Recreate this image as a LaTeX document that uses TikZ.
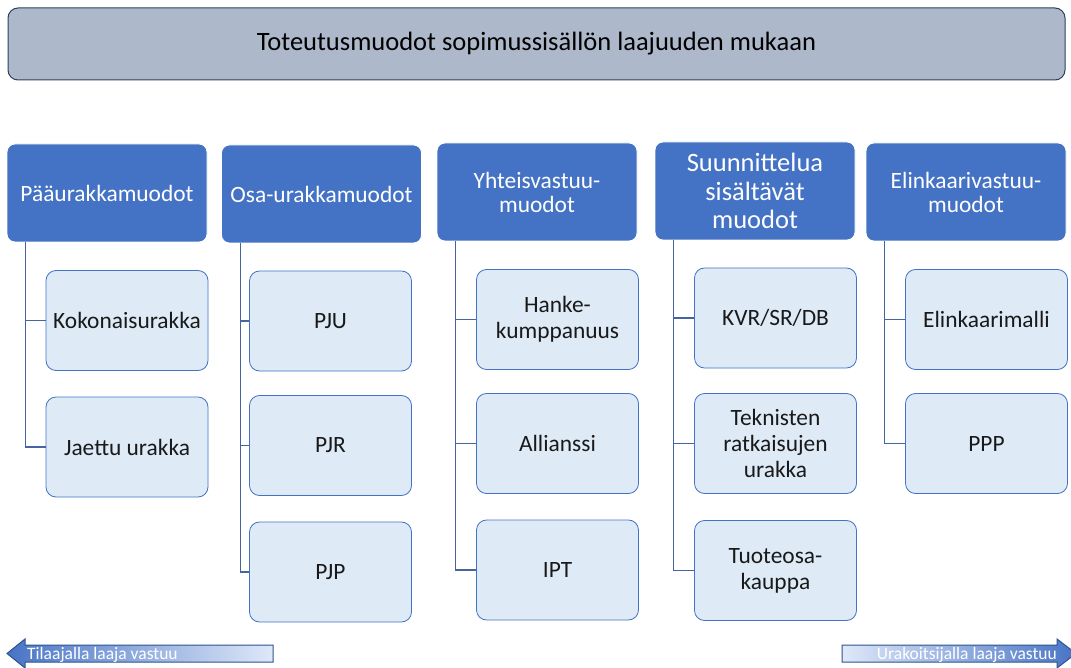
\documentclass[tikz,border=0pt]{standalone}
\usepackage{fontspec}
\setmainfont{Carlito}
\usetikzlibrary{calc}
\definecolor{headfill}{RGB}{173,185,202}
\definecolor{headline}{RGB}{47,64,90}
\definecolor{catblue}{RGB}{68,114,196}
\definecolor{itemfill}{RGB}{222,235,247}
\definecolor{linkblue}{RGB}{70,100,160}
\definecolor{arrowlight}{RGB}{222,232,248}
\definecolor{arrowdark}{RGB}{72,116,198}
\definecolor{arrowline}{RGB}{47,82,143}
\tikzset{
  titlebox/.style={draw=headline, line width=1pt, fill=headfill, rounded corners=10pt,
    minimum width=1057pt, minimum height=72pt, font=\fontsize{26.5}{30}\selectfont, text=black},
  catbox/.style={draw=white, line width=0.8pt, fill=catblue, rounded corners=8pt,
    minimum width=200pt, minimum height=98pt, align=center, text=white,
    font=\fontsize{23.4}{24}\selectfont, inner sep=2pt},
  itembox/.style={draw=catblue, line width=0.8pt, fill=itemfill, rounded corners=10pt,
    minimum width=162pt, minimum height=100pt, align=center, text=black!90,
    font=\fontsize{23.4}{26}\selectfont, inner sep=2pt},
  link/.style={draw=linkblue, line width=1.2pt},
  bandarrow/.style={draw=arrowline, line width=1pt},
  bandtext/.style={text=white, font=\fontsize{17.5}{20}\selectfont, inner sep=0pt}
}
\begin{document}
\begin{tikzpicture}[x=1pt,y=-1pt]
\useasboundingbox (0,0) rectangle (1071,668);

% title bar
\node[titlebox] (title) at (536.5,44) {Toteutusmuodot sopimussisällön laajuuden mukaan};

% category headers
\node[catbox] (c1) at (107,193) {Pääurakkamuodot};
\node[catbox] (c2) at (321.5,194) {Osa-urakkamuodot};
\node[catbox] (c3) at (537,192) {Yhteisvastuu-\\muodot};
\node[catbox, font=\fontsize{26.5}{28.5}\selectfont] (c4) at (755,191) {Suunnittelua\\sisältävät\\muodot};
\node[catbox] (c5) at (966,192) {Elinkaarivastuu-\\muodot};

% items
\node[itembox] (a1) at (127,320.5) {Kokonaisurakka};
\node[itembox] (a2) at (127,447) {Jaettu urakka};

\node[itembox] (b1) at (330.5,321) {PJU};
\node[itembox] (b2) at (330.5,445.5) {PJR};
\node[itembox] (b3) at (330.5,572) {PJP};

\node[itembox] (d1) at (557.5,319.5) {Hanke-\\kumppanuus};
\node[itembox] (d2) at (557.5,443.5) {Allianssi};
\node[itembox] (d3) at (557.5,570) {IPT};

\node[itembox] (e1) at (775.5,318) {KVR/SR/DB};
\node[itembox] (e2) at (775.5,443.5) {Teknisten\\ratkaisujen\\urakka};
\node[itembox] (e3) at (775.5,570.5) {Tuoteosa-\\kauppa};

\node[itembox] (f1) at (986.5,319.5) {Elinkaarimalli};
\node[itembox] (f2) at (986.5,443.5) {PPP};

% tree connectors
\foreach \c/\items in {c1/{a1,a2}, c2/{b1,b2,b3}, c3/{d1,d2,d3}, c4/{e1,e2,e3}, c5/{f1,f2}} {
  \foreach \i in \items {
    \draw[link] ($(\c.south west)+(19,0)$) |- (\i.west);
  }
}

% bottom band arrows
\shade[bandarrow, left color=arrowdark, right color=arrowlight]
  (273,645) -- (25,645) -- (25,639) -- (7,653.5) -- (25,668) -- (25,662) -- (273,662) -- cycle;
\node[bandtext, anchor=west] (lefttext) at (27,655) {Tilaajalla laaja vastuu};

\shade[bandarrow, left color=arrowlight, right color=arrowdark]
  (842,645) -- (1057,645) -- (1057,639) -- (1076,653.5) -- (1057,668) -- (1057,662) -- (842,662) -- cycle;
\node[bandtext, anchor=east] (righttext) at (1057,655) {Urakoitsijalla laaja vastuu};
\end{tikzpicture}
\end{document}
